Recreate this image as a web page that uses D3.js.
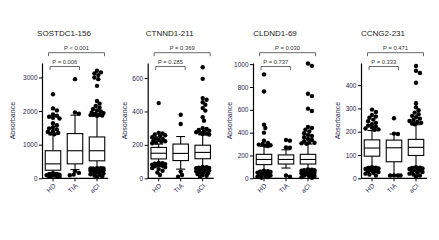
<!DOCTYPE html>
<html><head><meta charset="utf-8">
<script src="https://cdn.jsdelivr.net/npm/d3@7"></script>
<style>body{margin:0;background:#fff;} svg{display:block;font-family:Arial,"Liberation Sans",sans-serif;}</style>
</head><body><svg id="c" width="439" height="240"></svg>
<script>
const titles = ["SOSTDC1-156","CTNND1-211","CLDND1-69","CCNG2-231"];
const groups = ["HD","TIA","aCI"];
const pOverall = ["P < 0.001","P = 0.369","P = 0.030","P = 0.471"];
const pPair = ["P = 0.006","P = 0.285","P = 0.737","P = 0.333"];
const yMax = [3430, 690, 1010, 495];
const yTicks = [[0,1000,2000,3000],[0,200,400,600],[0,200,400,600,800,1000],[0,100,200,300,400]];
// [whiskerLow, q1, median, q3, whiskerHigh] for HD, TIA, aCI
const boxSOSTDC1 = [[170,240,430,820,1300],[260,430,820,1330,1880],[320,520,820,1230,1850]];
const boxCTNND1 = [[95,116,150,185,205],[55,106,149,205,250],[70,117,155,198,260]];
const boxCLDND1 = [[70,120,165,210,280],[90,125,165,205,250],[80,125,165,210,300]];
const boxCCNG2 = [[50,95,130,165,205],[15,71,131,164,190],[50,98,133,167,230]];
const outSOSTDC1 = [
  [2500,2080,2020,1900,1860,1830,1800,1780,1640,1580,1520,1480,1450,1410,1380,1350,1330,1310,150,130,120,105,95,85,75,65,55,45],
  [2950,1960,1920,210,160,110,90],
  [3200,3150,3120,3070,3000,2950,2750,2300,2220,2150,2100,2060,2020,1990,1960,1940,1920,1900,1890,1880,1870,1860,
   300,298,295,292,290,285,280,275,270,262,255,245,235,225,210,195,180,160,140,120,100,80,60,40]
];
const outCTNND1 = [
  [450,272,268,262,258,252,246,240,236,230,226,222,218,214,210,92,90,88,85,82,80,78,75,72,68,62,55,45,35,20],
  [380,325,40,20,10],
  [665,595,480,470,455,440,420,405,365,345,300,295,290,285,280,276,272,268,265,262,68,66,64,62,60,58,55,52,50,46,42,38,34,30,26,20,15,10]
];
const outCLDND1 = [
  [910,760,470,440,400,330,310,300,295,290,286,283,66,62,58,55,50,45,40,35,30,25,20,15,10,5],
  [335,330,270,268,25,15],
  [1005,985,740,720,610,590,450,440,425,410,395,380,370,360,345,335,325,318,312,306,302,78,75,72,70,67,64,60,56,52,48,44,40,35,30,25,20,15,10,5]
];
const outCCNG2 = [
  [295,285,272,265,260,252,245,238,232,226,222,218,214,210,208,48,46,44,42,40,38,35,32,30,27,24,20,16,12],
  [258,192,190,12,12,12,12],
  [482,462,452,410,322,305,292,282,275,268,262,256,250,246,242,238,235,232,48,46,44,42,40,38,36,33,30,27,24,20,16,12,8]
];
const boxes = [boxSOSTDC1, boxCTNND1, boxCLDND1, boxCCNG2];
const outs = [outSOSTDC1, outCTNND1, outCLDND1, outCCNG2];

const svg = d3.select("#c");
const axisX = [42, 147.7, 253, 361];
const yTop = 63, yBottom = 178.3, plotW = 66;
const textCol = "#1f2550";
const r = 2.2;

function swarm(vals, y) {
  const sorted = vals.slice().sort((a,b)=>b-a);
  const placed = [];
  const cands = [0];
  for (let k=1;k<=5;k++){cands.push(k*1.3, -k*1.3);}
  sorted.forEach(v=>{
    const py = y(v);
    let best = null, bestD = -1;
    for (const c of cands) {
      let md = Infinity;
      for (const p of placed) { md = Math.min(md, Math.hypot(p.dx-c, p.y-py)); }
      if (md >= 2*r*0.8) { best = c; bestD = md; break; }
      if (md > bestD) { bestD = md; best = c; }
    }
    placed.push({dx:best, y:py, v});
  });
  return placed;
}

titles.forEach((t,i)=>{
  const A = axisX[i];
  const g = svg.append("g");
  const y = d3.scaleLinear().domain([0,yMax[i]]).range([yBottom, yTop]);
  const x = d3.scalePoint().domain(groups).range([A+11, A+55]);

  g.append("text").attr("x", A+22).attr("y", 36).attr("text-anchor","middle")
    .attr("font-size", 8).attr("fill","#222").text(t);

  const ya = g.append("g").attr("transform",`translate(${A},0)`)
    .call(d3.axisLeft(y).tickValues(yTicks[i]).tickFormat(d3.format("d")).tickSize(3).tickSizeOuter(0).tickPadding(1.5));
  ya.select(".domain").attr("stroke","#000").attr("stroke-width",1.2);
  ya.selectAll(".tick line").attr("stroke","#000").attr("stroke-width",1);
  ya.selectAll(".tick text").attr("font-size",6.5).attr("fill",textCol).attr("font-family","Arial,Liberation Sans,sans-serif");

  const lx = i===0 ? A-27 : A-21;
  g.append("text").attr("transform",`translate(${lx},${(yTop+yBottom)/2}) rotate(-90)`)
    .attr("text-anchor","middle").attr("font-size",7).attr("fill",textCol).text("Absorbance");

  g.append("line").attr("x1",A).attr("x2",A+plotW).attr("y1",yBottom).attr("y2",yBottom)
    .attr("stroke","#000").attr("stroke-width",1.2);
  groups.forEach(gr=>{
    g.append("line").attr("x1",x(gr)).attr("x2",x(gr)).attr("y1",yBottom).attr("y2",yBottom+3)
      .attr("stroke","#000").attr("stroke-width",1);
    g.append("text").attr("transform",`translate(${x(gr)+3},${yBottom+8}) rotate(-45)`)
      .attr("text-anchor","end").attr("font-size",6.5).attr("fill",textCol).text(gr);
  });

  const bw = 15.5, cap = 9;
  groups.forEach((gr,j)=>{
    const s = boxes[i][j], cx = x(gr);
    const bg = g.append("g").attr("stroke","#000").attr("stroke-width",1.1).attr("fill","none");
    bg.append("line").attr("x1",cx).attr("x2",cx).attr("y1",y(s[0])).attr("y2",y(s[1]));
    bg.append("line").attr("x1",cx).attr("x2",cx).attr("y1",y(s[3])).attr("y2",y(s[4]));
    bg.append("line").attr("x1",cx-cap/2).attr("x2",cx+cap/2).attr("y1",y(s[0])).attr("y2",y(s[0]));
    bg.append("line").attr("x1",cx-cap/2).attr("x2",cx+cap/2).attr("y1",y(s[4])).attr("y2",y(s[4]));
    bg.append("rect").attr("x",cx-bw/2).attr("width",bw).attr("y",y(s[3])).attr("height",y(s[1])-y(s[3])).attr("fill","#fff");
    bg.append("line").attr("x1",cx-bw/2).attr("x2",cx+bw/2).attr("y1",y(s[2])).attr("y2",y(s[2]));
    const pts = swarm(outs[i][j], y);
    g.append("g").selectAll("circle").data(pts).join("circle")
      .attr("cx",d=>cx+d.dx).attr("cy",d=>d.y).attr("r",r).attr("fill","#000");
  });

  const bc = "#444";
  const outerY = 52.7, innerY = 66.5, drop = 3.5;
  const br = (x1,x2,yy)=> g.append("path")
    .attr("d",`M${x1},${yy+drop}V${yy}H${x2}V${yy+drop}`)
    .attr("fill","none").attr("stroke",bc).attr("stroke-width",0.8);
  br(A+6.5, A+62.5, outerY);
  br(A+8, A+37.5, innerY);
  g.append("text").attr("x",A+34.5).attr("y",outerY-2.5).attr("text-anchor","middle")
    .attr("font-size",5.8).attr("fill","#333").text(pOverall[i]);
  g.append("text").attr("x",A+22.75).attr("y",innerY-2.5).attr("text-anchor","middle")
    .attr("font-size",5.8).attr("fill","#333").text(pPair[i]);
});
</script></body></html>
